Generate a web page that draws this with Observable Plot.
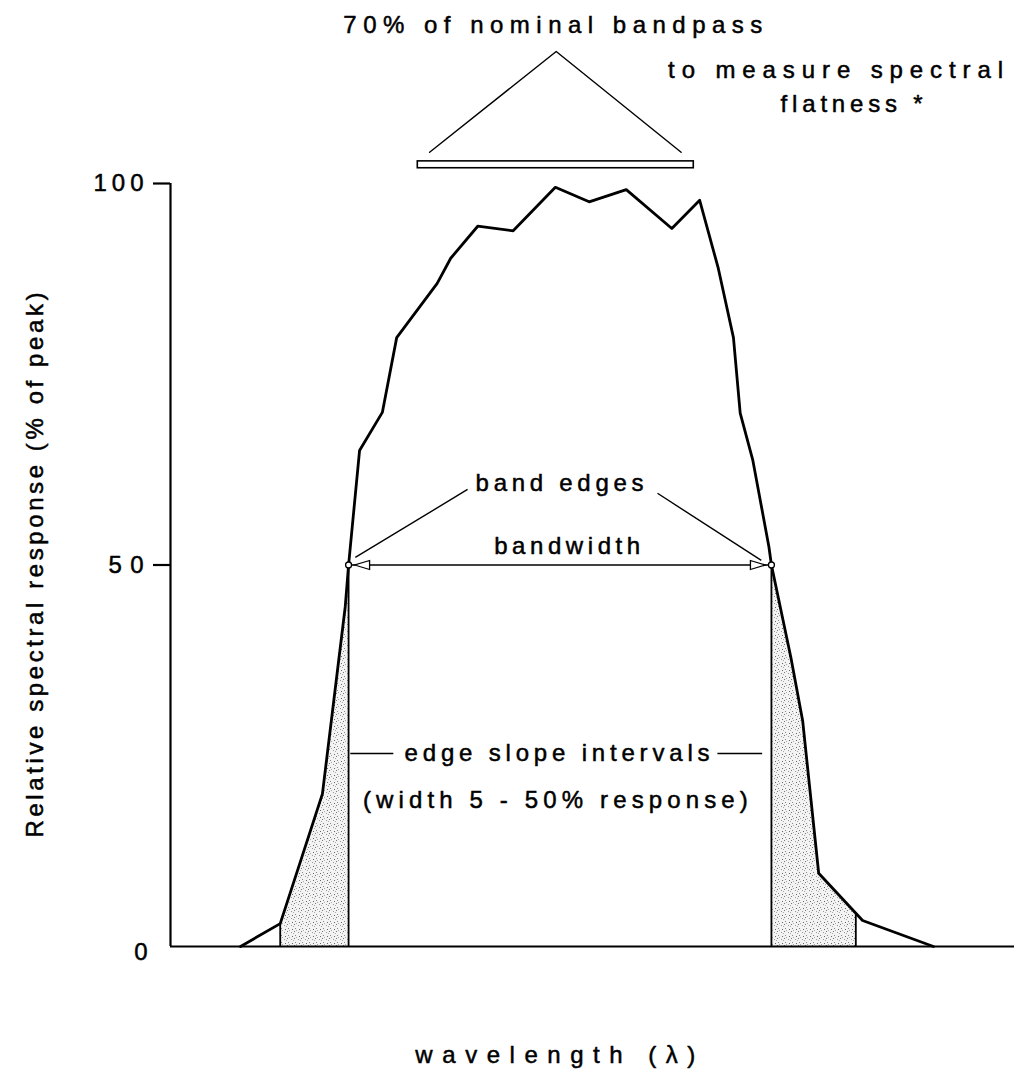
<!DOCTYPE html>
<html><head><meta charset="utf-8">
<script src="https://cdn.jsdelivr.net/npm/d3@7"></script>
<script src="https://cdn.jsdelivr.net/npm/@observablehq/plot@0.6"></script>
<style>body{margin:0;background:#fff} #chart svg{display:block}</style>
</head><body>
<svg width="0" height="0" style="position:absolute">
<defs>
<pattern id="stipple" width="7" height="7" patternUnits="userSpaceOnUse">
<rect width="7" height="7" fill="#f3f3f3"/>
<rect x="0" y="0" width="1" height="1" fill="#777"/>
<rect x="4" y="1" width="1" height="1" fill="#999"/>
<rect x="1" y="4" width="1" height="1" fill="#888"/>
<rect x="5" y="5" width="1" height="1" fill="#666"/>
<rect x="6" y="2" width="1" height="1" fill="#aaa"/>
<rect x="2" y="6" width="1" height="1" fill="#aaa"/>
</pattern></defs></svg>
<div id="chart"></div>
<script>
// ---- data (wavelength in arbitrary units 0–100, response in % of peak)
const curveX = [8.3, 13.0, 18.0, 20.7, 21.1, 22.4, 25.1, 26.8, 31.6, 33.2, 36.4, 40.6, 45.6, 49.6, 54.0, 59.4, 62.7, 64.9, 66.7, 67.5, 69.0, 70.9, 71.2, 73.5, 74.9, 76.8, 82.0, 90.4];
const curveY = [0, 3.0, 20.0, 44.5, 50.0, 65.0, 70.0, 79.8, 86.9, 90.2, 94.4, 93.8, 99.5, 97.6, 99.2, 94.1, 97.8, 88.9, 79.8, 69.9, 63.7, 52.4, 50.0, 37.9, 29.6, 9.6, 3.4, 0];
const bandEdges = [21.1, 71.2];      // 50% response points
const slopeEdges = [13.0, 81.2];     // 5% response points
const nominalBand = [29.3, 62.0];    // 70% of nominal bandpass
const yTicks = [0, 50, 100];
const yLabel = "Relative spectral response (% of peak)";
const xLabel = "wavelength (\u03BB)";

// annotation layout (data units)
const notes = [
  {text: "70% of nominal bandpass", x: 45.3, y: 120.7, w: 419},
  {text: "to measure spectral", x: 78.8, y: 114.8, w: 335},
  {text: "flatness *", x: 80.7, y: 110.4, w: 142},
  {text: "band edges", x: 46.1, y: 60.7, w: 168},
  {text: "bandwidth", x: 47.0, y: 52.4, w: 146},
  {text: "edge slope intervals", x: 45.8, y: 25.3, w: 305},
  {text: "(width 5 - 50% response)", x: 45.6, y: 19.1, w: 385},
  {text: xLabel, x: 45.6, y: -14.3, w: 280}
];
const leaders = [
  {x1: 35.2, y1: 59.9, x2: 21.9, y2: 51.0},
  {x1: 57.7, y1: 59.4, x2: 70.0, y2: 50.6},
  {x1: 21.3, y1: 25.3, x2: 26.4, y2: 25.3},
  {x1: 64.8, y1: 25.3, x2: 70.1, y2: 25.3}
];
const peakBracket = [{x: 30.7, y: 104.1}, {x: 45.7, y: 117.3}, {x: 60.5, y: 104.1}];
const barY = [102.0, 102.9];

// ---- helpers
const curve = curveX.map((x, i) => ({x, y: curveY[i]}));
function interp(x) {
  for (let i = 1; i < curve.length; i++) {
    const a = curve[i - 1], b = curve[i];
    if (x >= a.x && x <= b.x) return a.y + (b.y - a.y) * (x - a.x) / (b.x - a.x);
  }
  return 0;
}
function segment(x0, x1) {
  const pts = [{x: x0, y: interp(x0)}];
  curve.forEach(p => { if (p.x > x0 && p.x < x1) pts.push(p); });
  pts.push({x: x1, y: interp(x1)});
  return pts;
}
const leftShade = segment(slopeEdges[0], bandEdges[0]);
const rightShade = segment(bandEdges[1], slopeEdges[1]);
const headRight = {draw(ctx) { ctx.moveTo(0, 0); ctx.lineTo(-15, -4.5); ctx.lineTo(-15, 4.5); ctx.closePath(); }};

const font = "'Liberation Sans', Arial, Helvetica, sans-serif";
const FS = 24;
const textStyle = {fontSize: FS, fill: "black", stroke: "black", strokeWidth: 0.5};

const chart = Plot.plot({
  width: 1014, height: 1073,
  marginLeft: 170, marginRight: 0, marginTop: 183, marginBottom: 127,
  x: {domain: [0, 100], axis: null},
  y: {domain: [0, 100], axis: null},
  style: {fontFamily: font, background: "white", color: "black", overflow: "visible"},
  marks: [
    Plot.areaY(leftShade, {x: "x", y: "y", fill: "url(#stipple)"}),
    Plot.areaY(rightShade, {x: "x", y: "y", fill: "url(#stipple)"}),
    Plot.ruleX(bandEdges.concat(slopeEdges), {x: d => d, y1: 0, y2: d => interp(d), stroke: "black", strokeWidth: 1.8}),
    Plot.ruleY([0], {stroke: "black", strokeWidth: 2.2}),
    Plot.ruleX([0], {y1: 0, y2: 100, stroke: "black", strokeWidth: 2.2}),
    Plot.axisY(yTicks.filter(t => t > 0), {tickSize: 17, tickFormat: () => "", label: null, strokeWidth: 2.2}),
    Plot.text(yTicks.filter(t => t > 0), {y: d => d, text: d => String(d), frameAnchor: "left", textAnchor: "end", dx: -27, ...textStyle}),
    Plot.text([0], {y: d => d, text: d => String(d), frameAnchor: "left", textAnchor: "end", dx: -23, dy: 6, ...textStyle}),
    Plot.line(curve, {x: "x", y: "y", stroke: "black", strokeWidth: 2.8, strokeLinejoin: "round"}),
    Plot.ruleY([50], {x1: bandEdges[0], x2: bandEdges[1], stroke: "black", strokeWidth: 1.5}),
    Plot.dot([bandEdges[1]], {x: d => d, y: 50, dx: -6, symbol: headRight, fill: "white", stroke: "black", strokeWidth: 1.3}),
    Plot.dot([bandEdges[0]], {x: d => d, y: 50, dx: 6, symbol: headRight, rotate: 180, fill: "white", stroke: "black", strokeWidth: 1.3}),
    Plot.dot(bandEdges, {x: d => d, y: 50, r: 3, fill: "white", stroke: "black", strokeWidth: 1.3}),
    Plot.link(leaders, {x1: "x1", y1: "y1", x2: "x2", y2: "y2", stroke: "black", strokeWidth: 1.4}),
    Plot.line(peakBracket, {x: "x", y: "y", stroke: "black", strokeWidth: 1.4}),
    Plot.rect([0], {x1: nominalBand[0], x2: nominalBand[1], y1: barY[0], y2: barY[1], fill: "white", stroke: "black", strokeWidth: 1.6}),
    Plot.text(notes, {x: "x", y: "y", text: "text", ...textStyle}),
    Plot.text([yLabel], {frameAnchor: "left", dx: -135, rotate: -90, textAnchor: "middle", ...textStyle})
  ]
});
document.getElementById("chart").appendChild(chart);

// spread the letters like the wide-set lettering of the original
const widths = new Map(notes.map(n => [n.text, n.w]));
widths.set(yLabel, 545); widths.set("100", 50); widths.set("50", 35);
chart.querySelectorAll("text").forEach(t => {
  const w = widths.get(t.textContent);
  if (w) { t.setAttribute("textLength", w); t.setAttribute("lengthAdjust", "spacing"); }
});
</script>
</body></html>
